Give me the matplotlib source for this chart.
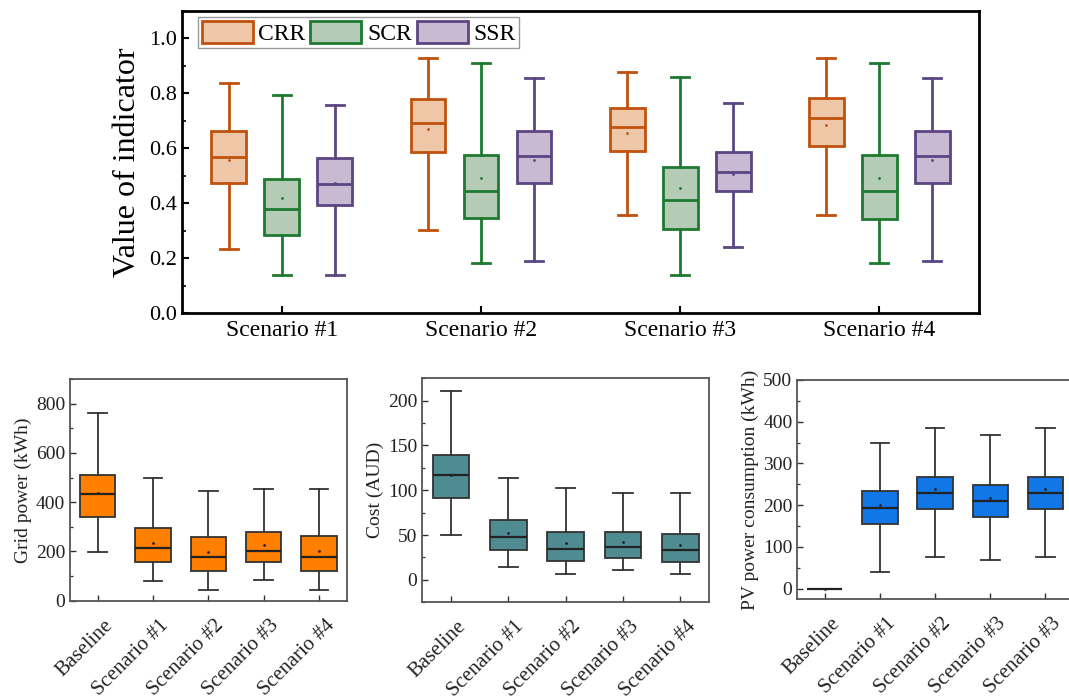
import numpy as np
import matplotlib
matplotlib.use("Agg")
import matplotlib.pyplot as plt
import matplotlib.transforms as mtransforms
from matplotlib.patches import Patch
from matplotlib.ticker import MultipleLocator

plt.rcParams['font.family'] = ['Liberation Serif', 'DejaVu Serif']
plt.rcParams['mathtext.fontset'] = 'stix'

# ---- indicator data (CRR / SCR / SSR per scenario) ----
scenarios = ["Scenario #1", "Scenario #2", "Scenario #3", "Scenario #4"]
indicators = ["CRR", "SCR", "SSR"]

# each row: scenario 1..4 ; columns: whislo, q1, med, q3, whishi, mean
crr_stats = [
    [0.234, 0.473, 0.567, 0.664, 0.836, 0.559],
    [0.303, 0.586, 0.693, 0.780, 0.929, 0.670],
    [0.356, 0.590, 0.676, 0.747, 0.879, 0.657],
    [0.356, 0.609, 0.711, 0.782, 0.930, 0.686],
]
scr_stats = [
    [0.140, 0.283, 0.377, 0.489, 0.794, 0.418],
    [0.182, 0.346, 0.445, 0.575, 0.911, 0.492],
    [0.138, 0.307, 0.410, 0.532, 0.860, 0.456],
    [0.182, 0.343, 0.444, 0.575, 0.911, 0.491],
]
ssr_stats = [
    [0.140, 0.394, 0.468, 0.566, 0.758, 0.473],
    [0.189, 0.473, 0.570, 0.664, 0.856, 0.559],
    [0.239, 0.444, 0.513, 0.586, 0.764, 0.506],
    [0.189, 0.473, 0.570, 0.664, 0.856, 0.559],
]

# ---- bottom panels ----
cases = ["Baseline", "Scenario #1", "Scenario #2", "Scenario #3", "Scenario #4"]
cases_pv = ["Baseline", "Scenario #1", "Scenario #2", "Scenario #3", "Scenario #3"]

grid_stats = [
    [197, 339, 434, 512, 762, 436],
    [79, 156, 214, 297, 499, 233],
    [43, 119, 176, 260, 447, 197],
    [84, 156, 203, 278, 454, 225],
    [43, 121, 179, 264, 454, 200],
]
cost_stats = [
    [50.2, 91.8, 117.0, 139.0, 210.4, 117.5],
    [14.8, 33.8, 47.6, 66.5, 113.4, 52.7],
    [6.3, 21.2, 34.5, 53.9, 102.2, 40.9],
    [11.2, 24.5, 36.8, 53.5, 97.0, 42.0],
    [6.3, 20.4, 33.0, 51.3, 97.0, 39.0],
]
pv_stats = [
    [0, 0, 0, 0, 0, 0],
    [39, 154, 193, 235, 349, 201],
    [75, 190, 230, 268, 385, 238],
    [69.5, 172, 209, 249, 367, 217],
    [75, 190, 229, 268, 385, 238],
]

edge_cols = {"CRR": "#C0520E", "SCR": "#1E7A30", "SSR": "#5B4583"}
fill_cols = {"CRR": "#EDC7A7", "SCR": "#B4CCB5", "SSR": "#C7BAD2"}


def to_bxp(rows):
    out = []
    for lo, q1, med, q3, hi, mean in rows:
        out.append(dict(whislo=lo, q1=q1, med=med, q3=q3, whishi=hi, mean=mean, fliers=[]))
    return out


fig = plt.figure(figsize=(10.69, 7.0), dpi=100)

# ------------------- top: indicators -------------------
ax = fig.add_axes([0.1703, 0.5529, 0.7456, 0.4314])
x = np.arange(1, len(scenarios) + 1)
offsets = [-0.266, 0.0, 0.266]
bw = 0.174
all_stats = {"CRR": crr_stats, "SCR": scr_stats, "SSR": ssr_stats}
for name, off in zip(indicators, offsets):
    ec = edge_cols[name]
    ax.bxp(to_bxp(all_stats[name]), positions=x + off, widths=bw, capwidths=bw * 0.52,
           patch_artist=True, showmeans=True, showfliers=False,
           boxprops=dict(facecolor=fill_cols[name], edgecolor=ec, linewidth=2.0),
           whiskerprops=dict(color=ec, linewidth=2.0),
           capprops=dict(color=ec, linewidth=2.0),
           medianprops=dict(color=ec, linewidth=2.0),
           meanprops=dict(marker='.', markersize=2, markerfacecolor=ec, markeredgecolor=ec))

ax.set_xlim(0.5, 4.5)
ax.set_ylim(0, 1.1)
ax.set_xticks(x)
ax.set_xticklabels(scenarios, fontsize=17)
ax.yaxis.set_major_locator(MultipleLocator(0.2))
ax.yaxis.set_minor_locator(MultipleLocator(0.1))
ax.set_yticks([0.0, 0.2, 0.4, 0.6, 0.8, 1.0])
ax.set_yticklabels(["0.0", "0.2", "0.4", "0.6", "0.8", "1.0"], fontsize=16)
ax.tick_params(axis='both', which='major', direction='in', length=5, width=1.5)
ax.tick_params(axis='y', which='minor', direction='in', length=3, width=1.2)
ax.tick_params(axis='x', pad=5)
ax.set_ylabel("Value of indicator", fontsize=23, labelpad=5)
for s in ax.spines.values():
    s.set_linewidth(2.0)
    s.set_color('black')

handles = [Patch(facecolor=fill_cols[n], edgecolor=edge_cols[n], linewidth=2.0, label=n)
           for n in indicators]
leg = ax.legend(handles=handles, loc='upper left', bbox_to_anchor=(0.02, 0.98), ncol=3,
                fontsize=17, frameon=True, fancybox=False, edgecolor='#999999', framealpha=1,
                handlelength=2.16, handleheight=1.06, handletextpad=0.25, columnspacing=0.2,
                borderpad=0.15, borderaxespad=0.0)
leg.get_frame().set_linewidth(1.0)

# shift for the rotated category labels of the lower panels
label_shift = mtransforms.ScaledTranslation(0.06, -0.04, fig.dpi_scale_trans)


def bottom_panel(rect, rows, labels, color, ylim, major, minor, ylabel):
    a = fig.add_axes(rect)
    pos = np.arange(len(labels))
    a.bxp(to_bxp(rows), positions=pos, widths=0.64, capwidths=0.34,
          patch_artist=True, showmeans=True, showfliers=False,
          boxprops=dict(facecolor=color, edgecolor='#333333', linewidth=1.3),
          whiskerprops=dict(color='#333333', linewidth=1.3),
          capprops=dict(color='#333333', linewidth=1.3),
          medianprops=dict(color='#222222', linewidth=1.6),
          meanprops=dict(marker='.', markersize=2, markerfacecolor='#222222',
                         markeredgecolor='#222222'))
    a.set_xlim(-0.5, len(labels) - 0.5)
    a.set_ylim(*ylim)
    a.yaxis.set_major_locator(MultipleLocator(major))
    a.yaxis.set_minor_locator(MultipleLocator(minor))
    a.tick_params(axis='both', which='major', direction='in', length=4, width=1.0,
                  labelsize=14, colors='#333333', labelcolor='#222222')
    a.tick_params(axis='x', labelsize=15, pad=8)
    a.tick_params(axis='y', which='minor', direction='in', length=2.5, width=0.9, colors='#333333')
    a.set_xticks(pos)
    a.set_xticklabels(labels, rotation=45, ha='right', rotation_mode='anchor', fontsize=15)
    for lab in a.get_xticklabels():
        lab.set_transform(lab.get_transform() + label_shift)
    a.set_ylabel(ylabel, fontsize=14, color='#222222', labelpad=3)
    for s in a.spines.values():
        s.set_linewidth(1.3)
        s.set_color('#555555')
    return a


bottom_panel([0.0655, 0.1419, 0.2588, 0.3167], grid_stats, cases, '#FF7F00',
             (0, 900), 200, 100, "Grid power (kWh)")
bottom_panel([0.3950, 0.1396, 0.2682, 0.3200], cost_stats, cases, '#4E8C91',
             (-25, 225), 50, 25, "Cost (AUD)")
bottom_panel([0.7458, 0.1443, 0.2579, 0.3129], pv_stats, cases_pv, '#1177E6',
             (-25, 500), 100, 50, "PV power consumption (kWh)")

fig.savefig("out.png", dpi=100)
